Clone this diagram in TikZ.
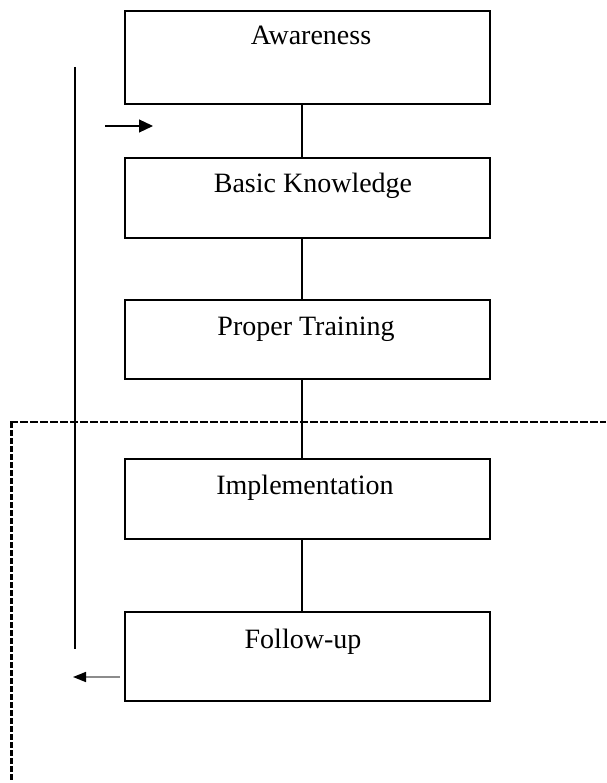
\documentclass[tikz,border=0pt]{standalone}
\usepackage{fontspec}
\setmainfont{Liberation Serif}
\usetikzlibrary{arrows.meta}
\begin{document}
\begin{tikzpicture}[x=1pt,y=-1pt,
  box/.style={draw, line width=2pt, minimum width=365pt, inner sep=0pt, rectangle},
  lbl/.style={anchor=base, font=\fontsize{28}{31}\selectfont},
  conn/.style={line width=2pt},
]
\useasboundingbox (0,0) rectangle (606,783);
% boxes
\node[box, minimum height=93pt] (a) at (307.5,57.5) {};
\node[box, minimum height=80pt] (b) at (307.5,198) {};
\node[box, minimum height=79pt] (c) at (307.5,339.5) {};
\node[box, minimum height=80pt] (d) at (307.5,499) {};
\node[box, minimum height=89pt] (e) at (307.5,656.5) {};
% labels
\node[lbl] (at) at (311,45) {Awareness};
\node[lbl] (bt) at (313,193) {Basic Knowledge};
\node[lbl] (ct) at (306,335) {Proper Training};
\node[lbl] (dt) at (305,494) {Implementation};
\node[lbl] (et) at (303,648) {Follow-up};
% connectors
\draw[conn] ([xshift=-5.5pt]a.south) -- ([xshift=-5.5pt]b.north);
\draw[conn] ([xshift=-5.5pt]b.south) -- ([xshift=-5.5pt]c.north);
\draw[conn] ([xshift=-5.5pt]c.south) -- ([xshift=-5.5pt]d.north);
\draw[conn] ([xshift=-5.5pt]d.south) -- ([xshift=-5.5pt]e.north);
% dashed feedback line
\coordinate (dbot) at (11.5,781);
\coordinate (dcorner) at (11.5,422);
\coordinate (dright) at (606,422);
\draw[line width=2pt, dash pattern=on 8pt off 2pt] (10,422) -- (dright);
\draw[line width=3pt, dash pattern=on 6pt off 2pt] (dcorner) -- (dbot);
% solid vertical line
\coordinate (vtop) at (75,67);
\coordinate (vbot) at (75,649);
\draw[line width=2pt] (vtop) -- (vbot);
% right arrow
\coordinate (r1) at (105,126);
\coordinate (r2) at (153,126);
\draw[line width=1.2pt, -{Triangle[length=14pt,width=13pt]}] (r1) -- (r2);
% left arrow
\coordinate (l1) at (120,677);
\coordinate (l2) at (73,677);
\draw[line width=1.6pt, draw=black!45, -{Triangle[length=13pt,width=10pt,color=black]}] (l1) -- (l2);
\end{tikzpicture}
\end{document}
